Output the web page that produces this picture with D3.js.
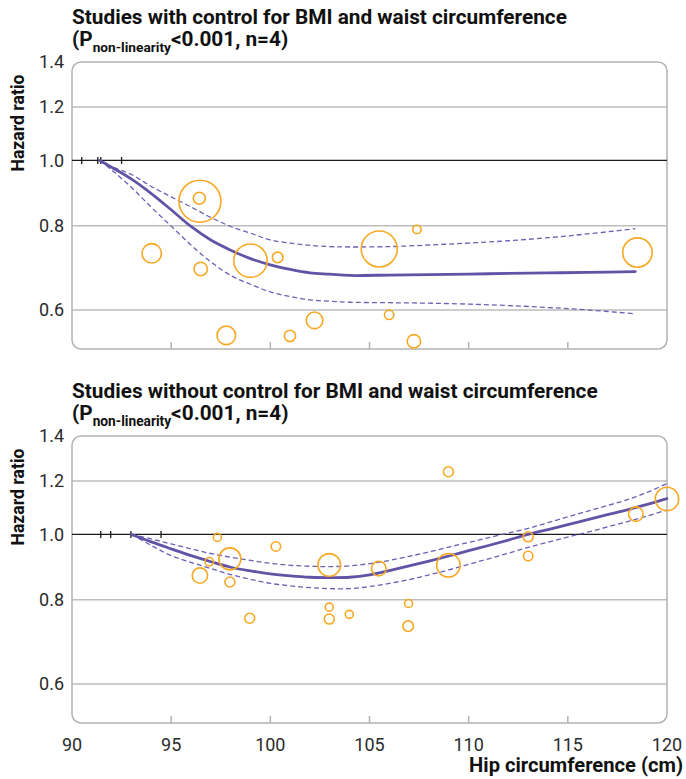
<!DOCTYPE html>
<html>
<head>
<meta charset="utf-8">
<script src="https://cdn.jsdelivr.net/npm/d3@7"></script>
<style>
  html, body { margin: 0; padding: 0; background: #fff; }
  svg { display: block; font-family: Roboto, "Noto Sans", "DejaVu Sans", sans-serif; }
</style>
</head>
<body>
<script>
// ---------------- DATA ----------------
const xTicks = [90, 95, 100, 105, 110, 115, 120];
const yTicks = [0.6, 0.8, 1.0, 1.2, 1.4];

// Panel 1: studies with control for BMI and waist circumference
const topTitle = "Studies with control for BMI and waist circumference";
const topCurveX = [91.4, 92, 93, 94, 95, 96, 97, 98, 99, 100, 101, 102, 103, 104, 106, 108, 110, 112, 114, 116, 118.4];
const topMain   = [1.0, 0.977, 0.938, 0.893, 0.845, 0.798, 0.762, 0.736, 0.715, 0.700, 0.689, 0.681, 0.678, 0.675, 0.676, 0.677, 0.678, 0.680, 0.681, 0.682, 0.684];
const topUpper  = [1.0, 0.979, 0.953, 0.915, 0.883, 0.853, 0.823, 0.798, 0.780, 0.762, 0.754, 0.748, 0.745, 0.744, 0.745, 0.749, 0.754, 0.760, 0.768, 0.778, 0.792];
const topLower  = [1.0, 0.968, 0.912, 0.852, 0.799, 0.749, 0.707, 0.675, 0.655, 0.638, 0.628, 0.621, 0.618, 0.616, 0.615, 0.614, 0.612, 0.609, 0.605, 0.600, 0.592];
const topStudyX  = [96.45, 96.42, 94.02, 96.49, 99.0, 100.37, 97.78, 100.99, 102.23, 105.49, 107.39, 105.99, 107.24, 118.51];
const topStudyHR = [0.870, 0.879, 0.728, 0.690, 0.710, 0.718, 0.550, 0.549, 0.579, 0.739, 0.790, 0.590, 0.539, 0.730];
const topStudyW  = [441, 36, 94, 45, 279, 28, 86, 32, 69, 324, 18, 22, 45, 216];
const topRug = [90.49, 91.3, 91.45, 92.5];

// Panel 2: studies without control for BMI and waist circumference
const botTitle = "Studies without control for BMI and waist circumference";
const botCurveX = [93, 94, 95, 96, 97, 98, 99, 100, 101, 102, 103, 104, 105, 106, 107, 108, 109, 110, 111, 112, 113, 114, 115, 116, 117, 118, 119, 120];
const botMain   = [1.0, 0.975, 0.952, 0.930, 0.911, 0.894, 0.883, 0.874, 0.868, 0.864, 0.863, 0.864, 0.871, 0.884, 0.898, 0.913, 0.929, 0.946, 0.963, 0.981, 1.000, 1.017, 1.034, 1.052, 1.070, 1.088, 1.108, 1.130];
const botUpper  = [1.0, 0.985, 0.968, 0.952, 0.937, 0.925, 0.915, 0.906, 0.900, 0.897, 0.896, 0.898, 0.905, 0.915, 0.928, 0.942, 0.958, 0.973, 0.989, 1.005, 1.021, 1.041, 1.062, 1.083, 1.104, 1.126, 1.155, 1.190];
const botLower  = [1.0, 0.963, 0.930, 0.909, 0.890, 0.872, 0.858, 0.846, 0.839, 0.834, 0.831, 0.831, 0.837, 0.846, 0.857, 0.871, 0.886, 0.903, 0.920, 0.938, 0.957, 0.974, 0.991, 1.008, 1.026, 1.045, 1.065, 1.087];
const botStudyX  = [97.33, 100.28, 96.92, 97.96, 96.45, 97.96, 102.97, 98.96, 102.97, 102.97, 103.98, 105.47, 108.98, 108.98, 106.97, 106.95, 113.0, 113.0, 118.43, 120.0];
const botStudyHR = [0.990, 0.960, 0.911, 0.920, 0.869, 0.850, 0.901, 0.751, 0.780, 0.749, 0.761, 0.890, 1.239, 0.900, 0.790, 0.731, 0.992, 0.929, 1.072, 1.129];
const botStudyW  = [16, 22, 18, 121, 59, 25, 128, 25, 16, 25, 16, 53, 25, 137, 16, 28, 25, 22, 53, 137];
const botRug = [91.45, 91.95, 92.97, 94.49];

const yLabel = "Hazard ratio";
const xLabel = "Hip circumference (cm)";

// ---------------- DRAW ----------------
const W = 686, H = 779;
const svg = d3.select("body").append("svg").attr("width", W).attr("height", H);

const C = {
  purple: "#6353a6", dash: "#6c60b4", orange: "#f7a823",
  grid: "#bdbdbd", border: "#b3b3b3", ref: "#1a1a1a", text: "#2b2b2b"
};

const x = d3.scaleLinear().domain([90, 120]).range([72, 667]);
const rScale = d3.scaleSqrt().domain([0, 441]).range([0, 21]);

function fitWidth(sel, target) {
  const node = sel.node();
  const fs = parseFloat(sel.attr("font-size"));
  const w = node.getComputedTextLength();
  if (w > 0) sel.attr("font-size", (fs * target / w).toFixed(2));
}

function drawPanel(cfg) {
  const top = cfg.top, bottom = cfg.top + 287;
  const y = d3.scaleLog().domain([0.525, 1.4]).range([bottom, top]);
  const g = svg.append("g");

  // gridlines
  g.selectAll("line.grid").data(yTicks.filter(v => v !== 1.0 && v !== 1.4)).join("line")
    .attr("x1", x(90)).attr("x2", x(120))
    .attr("y1", d => y(d)).attr("y2", d => y(d))
    .attr("stroke", C.grid).attr("stroke-width", 1.5);

  // panel border
  g.append("rect").attr("x", x(90)).attr("y", top)
    .attr("width", x(120) - x(90)).attr("height", bottom - top)
    .attr("rx", 9).attr("ry", 9)
    .attr("fill", "none").attr("stroke", C.border).attr("stroke-width", 1.5);

  // x ticks (inside, from bottom)
  g.selectAll("line.xt").data(xTicks.slice(1, -1)).join("line")
    .attr("x1", d => x(d)).attr("x2", d => x(d))
    .attr("y1", bottom).attr("y2", bottom - 7)
    .attr("stroke", C.border).attr("stroke-width", 1.5);

  // reference line
  g.append("line").attr("x1", x(90)).attr("x2", x(120))
    .attr("y1", y(1)).attr("y2", y(1))
    .attr("stroke", C.ref).attr("stroke-width", 1.3);
  g.selectAll("line.rug").data(cfg.rug).join("line")
    .attr("x1", d => x(d)).attr("x2", d => x(d))
    .attr("y1", y(1) - 3.5).attr("y2", y(1) + 3.5)
    .attr("stroke", C.ref).attr("stroke-width", 1.3);

  // y tick labels
  g.selectAll("text.yt").data(yTicks).join("text")
    .attr("x", 64).attr("y", d => y(d)).attr("dy", "0.35em")
    .attr("text-anchor", "end").attr("font-size", 18).attr("fill", C.text)
    .text(d => d.toFixed(1));

  // y axis title
  g.append("text").attr("transform", `translate(24,${cfg.yTitleY}) rotate(-90)`)
    .attr("text-anchor", "middle").attr("font-weight", "bold").attr("font-size", 16)
    .attr("fill", "#111").text(yLabel).call(s => fitWidth(s, 97));

  // title
  const t1 = g.append("text").attr("x", 72).attr("y", top - 38)
    .attr("font-weight", "bold").attr("font-size", 17).attr("fill", "#111")
    .text(cfg.title);
  fitWidth(t1, cfg.titleWidth);
  const fs = t1.attr("font-size");
  const t2 = g.append("text").attr("x", 72).attr("y", top - 16)
    .attr("font-weight", "bold").attr("font-size", fs).attr("fill", "#111");
  t2.append("tspan").text("(P");
  t2.append("tspan").attr("dy", 6).attr("font-size", fs * 0.66).text("non-linearity");
  t2.append("tspan").attr("dy", -6).text("<0.001, n=4)");

  // curves
  const line = d3.line().x(d => x(d[0])).y(d => y(d[1])).curve(d3.curveCatmullRom.alpha(0.5));
  const pts = arr => cfg.cx.map((v, i) => [v, arr[i]]);
  g.append("path").attr("d", line(pts(cfg.upper))).attr("fill", "none")
    .attr("stroke", C.dash).attr("stroke-width", 1.3).attr("stroke-dasharray", "5,3");
  g.append("path").attr("d", line(pts(cfg.lower))).attr("fill", "none")
    .attr("stroke", C.dash).attr("stroke-width", 1.3).attr("stroke-dasharray", "5,3");
  g.append("path").attr("d", line(pts(cfg.main))).attr("fill", "none")
    .attr("stroke", C.purple).attr("stroke-width", 2.8).attr("stroke-linecap", "round");

  // study circles
  const studies = cfg.sx.map((v, i) => ({ x: v, hr: cfg.shr[i], w: cfg.sw[i] }));
  g.selectAll("circle.st").data(studies).join("circle")
    .attr("cx", d => x(d.x)).attr("cy", d => y(d.hr)).attr("r", d => rScale(d.w))
    .attr("fill", "none").attr("stroke", C.orange).attr("stroke-width", 1.6);

  // x tick labels (only on bottom panel)
  if (cfg.showX) {
    g.selectAll("text.xl").data(xTicks).join("text")
      .attr("x", d => x(d)).attr("y", bottom + 28)
      .attr("text-anchor", "middle").attr("font-size", 18).attr("fill", C.text)
      .text(d => d);
  }
}

drawPanel({ top: 62, title: topTitle, titleWidth: 495, yTitleY: 123,
  cx: topCurveX, main: topMain, upper: topUpper, lower: topLower,
  sx: topStudyX, shr: topStudyHR, sw: topStudyW, rug: topRug, showX: false });

drawPanel({ top: 436, title: botTitle, titleWidth: 526, yTitleY: 497,
  cx: botCurveX, main: botMain, upper: botUpper, lower: botLower,
  sx: botStudyX, shr: botStudyHR, sw: botStudyW, rug: botRug, showX: true });

// x axis title
const xt = svg.append("text").attr("x", 683).attr("y", 772)
  .attr("text-anchor", "end").attr("font-weight", "bold").attr("font-size", 17)
  .attr("fill", "#111").text(xLabel);
fitWidth(xt, 214);
</script>
</body>
</html>
